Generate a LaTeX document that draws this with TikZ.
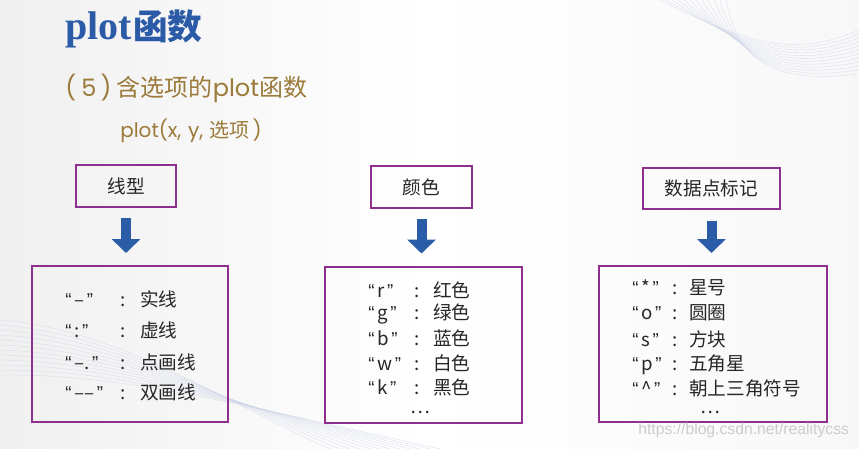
\documentclass[tikz,border=0pt]{standalone}
\usepackage{fontspec}
\setmainfont{Noto Sans CJK SC}
\newfontfamily\titleserif{Liberation Serif}
\newfontfamily\wmfont{Liberation Sans}
\newfontfamily\geofont{Poppins}
\usetikzlibrary{arrows.meta}

\definecolor{titleblue}{HTML}{2B5BA6}
\definecolor{gold}{HTML}{9B7A3A}
\definecolor{boxpurple}{HTML}{8E2F8E}
\definecolor{arrowblue}{HTML}{2A5CA8}
\definecolor{wavecol}{HTML}{CDD4E8}
\definecolor{inktext}{HTML}{262626}

% guillemets proportionnels autour d'une clé
\newcommand\qt[1]{{\wmfont“}\hspace{2pt}#1\hspace{2pt}{\wmfont”}}
% clé, deux-points, valeur
\newcommand\entry[4]{\makebox[#1][l]{#3}\makebox[#2]{:}#4}

\begin{document}
\begin{tikzpicture}[
  x=0.75pt, y=-0.75pt,
  head/.style={draw=boxpurple, line width=1.5pt, minimum height=31pt,
    text=inktext, font=\fontsize{14}{16}\selectfont},
  list/.style={draw=boxpurple, line width=1.5pt, minimum height=117pt},
  item/.style={anchor=west, inner sep=0pt, text=inktext, font=\fontsize{14}{16}\selectfont},
  down/.style={arrowblue, line width=7.5pt,
    -{Triangle[width=21pt,length=10.5pt]}, shorten <=8pt, shorten >=9pt},
  wave/.style={wavecol, line width=0.3pt, opacity=0.7}
]

% fond de page
\useasboundingbox (0,0) rectangle (859,449);
\shade[left color=gray!12, right color=gray!6, middle color=white] (0,0) rectangle (859,449);
\foreach \i in {0,...,11}{
  \draw[wave] (660+\i*6,0) .. controls (740,40+\i*3) and (790,60+\i*2) .. (859,30+\i*4);
  \draw[wave] (0,320+\i*5) .. controls (120,330+\i*4) and (220,400) .. (330+\i*10,449);
}

% titres
\node[anchor=base west, inner sep=0pt, text=titleblue] (title) at (65,40)
  {{\titleserif\bfseries\fontsize{30}{34}\selectfont plot}\hspace{1pt}{\bfseries\fontsize{26}{30}\selectfont 函数}};
\node[anchor=west, inner sep=0pt, text=gold, font=\fontsize{18}{22}\selectfont] (sub) at (65,88)
  {{\geofont(\hspace{4pt}5\hspace{3pt})}\hspace{4pt}含选项的{\geofont plot}函数};
\node[anchor=west, inner sep=0pt, text=gold, font=\fontsize{15}{18}\selectfont] (call) at (120,131)
  {{\geofont plot(x,\hspace{5pt}y,\hspace{5pt}}选项{\geofont\hspace{2pt})}};

% en-têtes
\node[head, minimum width=75pt]  (hline)  at (126,186)   {线型};
\node[head, minimum width=76pt]  (hcolor) at (421.5,187) {颜色};
\node[head, minimum width=103pt] (hmark)  at (711.5,188.5) {数据点标记};

% listes
\node[list, minimum width=147pt] (lline)  at (130,344)   {};
\node[list, minimum width=148pt] (lcolor) at (423.5,344.5) {};
\node[list, minimum width=171pt] (lmark)  at (713,344)   {};

% flèches
\draw[down] (hline.south)  -- (hline.south  |- lline.north);
\draw[down] (hcolor.south) -- (hcolor.south |- lcolor.north);
\draw[down] (hmark.south)  -- (hmark.south  |- lmark.north);

% contenu : type de ligne
\foreach \k/\v/\y [count=\i] in {\qt{–}/实线/299, \qt{:}/虚线/330, \qt{–.}/点画线/362, \qt{––}/双画线/392}
  \node[item] (tline\i) at (65,\y) {\entry{30.75pt}{25.5pt}{\k}{\v}};

% contenu : couleur
\foreach \k/\v/\y [count=\i] in {\qt{r}/红色/290, \qt{g}/绿色/314, \qt{b}/蓝色/338, \qt{w}/白色/363, \qt{k}/黑色/387}
  \node[item] (tcolor\i) at (368,\y) {\entry{24.75pt}{24pt}{\k}{\v}};
\node[item, anchor=center] (dcolor) at (420,412) {…};

% contenu : marqueurs
\foreach \k/\v/\y [count=\i] in {\qt{*}/星号/288, \qt{o}/圆圈/313, \qt{s}/方块/339, \qt{p}/五角星/365, \qt{\textasciicircum}/朝上三角符号/388}
  \node[item] (tmark\i) at (632,\y) {\entry{21.75pt}{21pt}{\k}{\v}};
\node[item, anchor=center] (dmark) at (710,412) {…};

% filigrane
\node[anchor=west, inner sep=0pt, text=gray!40, font=\wmfont\fontsize{11.8}{14}\selectfont] (wm) at (638,430)
  {https://blog.csdn.net/realitycss};

\end{tikzpicture}
\end{document}
